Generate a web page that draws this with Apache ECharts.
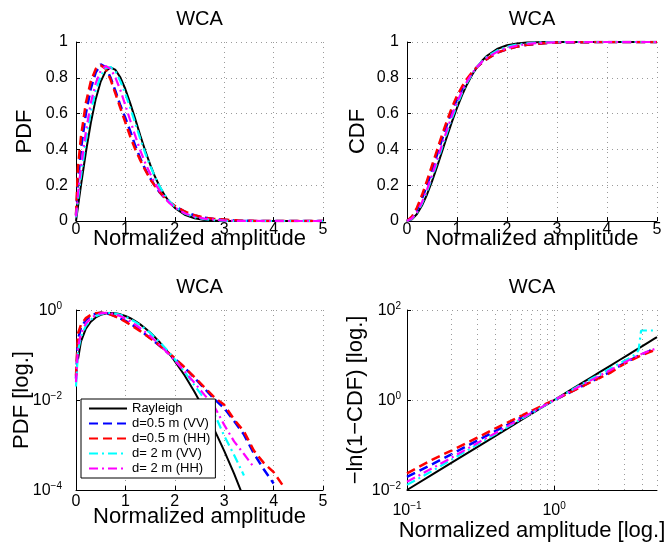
<!DOCTYPE html>
<html>
<head>
<meta charset="utf-8">
<script src="https://cdn.jsdelivr.net/npm/echarts@6/dist/echarts.min.js"></script>
<style>
  html, body { margin: 0; padding: 0; background: #ffffff; }
  #chart { width: 668px; height: 543px; }
</style>
</head>
<body>
<div id="chart"></div>
<script>
// Legend / series names
const seriesNames = ['Rayleigh', 'd=0.5 m (VV)', 'd=0.5 m (HH)', 'd= 2 m (VV)', 'd= 2 m (HH)'];

// PDF of the normalized amplitude
const pdfX = [0, 0.04, 0.1, 0.2, 0.3, 0.4, 0.5, 0.6, 0.7, 0.8, 0.9, 1.0, 1.1, 1.2, 1.3, 1.4, 1.5, 1.6, 1.7, 1.8, 1.9,
              2.0, 2.2, 2.4, 2.6, 2.8, 3.0, 3.2, 3.4, 3.6, 3.8, 4.0, 4.2, 4.4, 4.6, 4.8, 5.0];
const pdfRayleigh = [0, 0.08, 0.198, 0.384, 0.548, 0.682, 0.779, 0.837, 0.858, 0.844, 0.801, 0.736, 0.656, 0.569, 0.479,
                     0.394, 0.316, 0.247, 0.189, 0.141, 0.103, 0.073, 0.035, 0.0151, 0.0060, 0.0022, 7.4e-4, 2.3e-4,
                     6.5e-5, 1.7e-5, 4e-6, 9e-7, 1.8e-7, 3.5e-8, 6e-9, 1e-9, 1.4e-10];
const pdfVV05 = [0.03, 0.22, 0.40, 0.60, 0.74, 0.83, 0.875, 0.86, 0.80, 0.725, 0.645, 0.575, 0.50, 0.42, 0.35, 0.29,
                 0.24, 0.195, 0.158, 0.128, 0.103, 0.083, 0.052, 0.031, 0.018, 0.0105, 0.0066, 0.0034, 0.0017,
                 6.5e-4, 2.9e-4, 1.4e-4, 0, 0, 0, 0, 0];
const pdfHH05 = [0.035, 0.30, 0.47, 0.66, 0.78, 0.85, 0.87, 0.85, 0.79, 0.71, 0.63, 0.55, 0.47, 0.40, 0.34, 0.285,
                 0.235, 0.195, 0.16, 0.13, 0.105, 0.085, 0.053, 0.032, 0.019, 0.0115, 0.0078, 0.0037, 0.0020,
                 7.5e-4, 4.0e-4, 2.5e-4, 1.2e-4, 0, 0, 0, 0];
const pdfVV2 = [0.02, 0.12, 0.25, 0.45, 0.61, 0.73, 0.81, 0.855, 0.86, 0.835, 0.78, 0.71, 0.63, 0.545, 0.46, 0.38,
                0.31, 0.245, 0.19, 0.145, 0.108, 0.08, 0.042, 0.021, 0.0105, 0.005, 0.0016, 6.0e-4, 2.1e-4,
                0, 0, 0, 0, 0, 0, 0, 0];
const pdfHH2 = [0.025, 0.15, 0.30, 0.50, 0.66, 0.77, 0.84, 0.866, 0.85, 0.80, 0.73, 0.645, 0.56, 0.475, 0.395, 0.325,
                0.265, 0.21, 0.165, 0.128, 0.098, 0.075, 0.043, 0.024, 0.013, 0.0072, 0.0028, 0.0012, 6.3e-4,
                3.2e-4, 0, 0, 0, 0, 0, 0, 0];

// CDF of the normalized amplitude
const cdfX = [0, 0.1, 0.2, 0.3, 0.4, 0.5, 0.6, 0.7, 0.8, 0.9, 1.0, 1.1, 1.2, 1.3, 1.4, 1.5, 1.6, 1.8, 2.0, 2.2, 2.4,
              2.6, 2.8, 3.0, 3.5, 4.0, 4.5, 5.0];
const cdfRayleigh = [0, 0.01, 0.039, 0.086, 0.148, 0.221, 0.302, 0.387, 0.473, 0.555, 0.632, 0.702, 0.763, 0.816,
                     0.859, 0.895, 0.923, 0.961, 0.982, 0.992, 0.997, 0.9988, 0.9996, 0.9999, 1, 1, 1, 1];
const cdfVV05 = [0, 0.02, 0.062, 0.125, 0.20, 0.285, 0.37, 0.455, 0.54, 0.615, 0.68, 0.735, 0.785, 0.825, 0.86,
                 0.885, 0.905, 0.94, 0.96, 0.974, 0.984, 0.99, 0.994, 0.997, 0.999, 1, 1, 1];
const cdfHH05 = [0, 0.025, 0.075, 0.145, 0.225, 0.31, 0.395, 0.48, 0.56, 0.635, 0.70, 0.75, 0.795, 0.83, 0.86,
                 0.885, 0.905, 0.94, 0.96, 0.974, 0.984, 0.99, 0.994, 0.997, 0.999, 1, 1, 1];
const cdfVV2 = [0, 0.013, 0.045, 0.097, 0.165, 0.243, 0.325, 0.41, 0.495, 0.575, 0.65, 0.715, 0.772, 0.82, 0.86,
                0.892, 0.918, 0.952, 0.973, 0.986, 0.993, 0.997, 0.9985, 0.9995, 1, 1, 1, 1];
const cdfHH2 = [0, 0.015, 0.05, 0.105, 0.175, 0.255, 0.34, 0.425, 0.51, 0.59, 0.665, 0.725, 0.78, 0.825, 0.86,
                0.89, 0.912, 0.945, 0.966, 0.98, 0.989, 0.994, 0.997, 0.9985, 1, 1, 1, 1];

// -ln(1-CDF) on log-log axes
const hX = [0.1, 0.15, 0.2, 0.3, 0.4, 0.5, 0.6, 0.7, 0.8, 0.9, 1.0, 1.2, 1.4, 1.6, 1.8, 2.0, 2.4, 2.8, 3.2, 3.6,
            3.75, 3.9, 4.0, 4.4, 4.8, 5.0];
const hRayleigh = [0.01, 0.0225, 0.04, 0.09, 0.16, 0.25, 0.36, 0.49, 0.64, 0.81, 1.0, 1.44, 1.96, 2.56, 3.24, 4.0,
                   5.76, 7.84, 10.24, 12.96, 14.06, 15.21, 16, 19.36, 23.04, 25];
const hVV05 = [0.0195, 0.038, 0.062, 0.125, 0.205, 0.30, 0.41, 0.535, 0.67, 0.825, 0.99, 1.33, 1.72, 2.15, 2.6, 3.1,
               4.2, 5.8, 7.4, 9.0, 9.6, 10.2, 10.6, 12.0, 14.8, null];
const hHH05 = [0.0235, 0.048, 0.075, 0.145, 0.235, 0.335, 0.45, 0.57, 0.705, 0.85, 1.0, 1.33, 1.7, 2.1, 2.55, 3.0,
               4.0, 5.6, 7.1, 8.6, 9.2, 9.8, 10.1, 11.5, 12.8, null];
const hVV2 = [0.013, 0.027, 0.047, 0.102, 0.175, 0.27, 0.38, 0.51, 0.65, 0.81, 0.985, 1.4, 1.88, 2.4, 3.0, 3.6,
              5.0, 6.6, 8.3, 10.5, 13, 35, 35, 35, 35, 35];
const hHH2 = [0.0152, 0.031, 0.052, 0.11, 0.185, 0.28, 0.39, 0.52, 0.66, 0.82, 0.99, 1.38, 1.8, 2.3, 2.8, 3.35,
              4.6, 6.0, 7.6, 9.2, 9.8, 10.4, 10.8, 12.3, 13.5, null];

// Extra dotted grid lines of the log x axis (between the decades)
const logMinorGrid = [0.2, 0.3, 0.4, 0.5, 0.6, 0.7, 0.8, 0.9, 2, 3, 4];

const FONT = "'Liberation Sans', Arial, Helvetica, sans-serif";
const GRID_COLOR = '#9a9a9a';
const lineStyles = [
  { color: '#000000', width: 2,   type: 'solid' },
  { color: '#0000ff', width: 2.5, type: [9, 5] },
  { color: '#ff0000', width: 2.5, type: [9, 5] },
  { color: '#00ffff', width: 2.2, type: [9, 4, 2, 4] },
  { color: '#ff00ff', width: 2.2, type: [9, 4, 2, 4] }
];

function pairs(xs, ys, positiveOnly) {
  const out = [];
  for (let i = 0; i < xs.length; i++) {
    const y = ys[i];
    if (y === null || y === undefined) continue;
    if (positiveOnly && !(y > 0)) continue;
    out.push([xs[i], y]);
  }
  return out;
}

function powLabel(v) {
  const lg = Math.log10(v);
  const e = Math.round(lg);
  if (Math.abs(lg - e) > 1e-6) return '';
  return '{b|10}{s|' + (e < 0 ? '\u2212' + (-e) : String(e)) + '}';
}
const powRich = {
  b: { fontSize: 16, fontFamily: FONT, color: '#000', lineHeight: 18, verticalAlign: 'bottom' },
  s: { fontSize: 10, fontFamily: FONT, color: '#000', lineHeight: 10, verticalAlign: 'top' }
};

const splitDotted = { show: true, showMinLine: false, lineStyle: { color: GRID_COLOR, width: 1, type: [1, 4] } };
const axisLineBlack = { show: true, onZero: false, lineStyle: { color: '#000', width: 1 } };
const tickInside = { show: true, inside: true, length: 4, lineStyle: { color: '#000', width: 1 } };
const nameStyle = { fontSize: 22, fontFamily: FONT, color: '#000' };
const labelStyle = { fontSize: 16, fontFamily: FONT, color: '#000' };

function linX(gridIndex, gap, margin, name) {
  return {
    gridIndex, type: 'value', min: 0, max: 5, interval: 1,
    axisLine: axisLineBlack, axisTick: tickInside, splitLine: splitDotted,
    axisLabel: Object.assign({ margin }, labelStyle),
    name, nameLocation: 'middle', nameGap: gap, nameTextStyle: nameStyle, nameMoveOverlap: false
  };
}

const option = {
  animation: false,
  backgroundColor: '#ffffff',
  textStyle: { fontFamily: FONT },
  grid: [
    { left: 76,  top: 42,  width: 247, height: 179, outerBoundsMode: 'none', containLabel: false },
    { left: 407, top: 42,  width: 250, height: 179, outerBoundsMode: 'none', containLabel: false },
    { left: 76,  top: 310, width: 247, height: 180, outerBoundsMode: 'none', containLabel: false },
    { left: 407, top: 310, width: 250, height: 180, outerBoundsMode: 'none', containLabel: false }
  ],
  graphic: [
    [199.5, 19], [532, 19], [199.5, 287], [532, 287]
  ].map(p => ({
    type: 'text', x: p[0], y: p[1], silent: true,
    style: { text: 'WCA', fill: '#000', font: '20px ' + FONT, textAlign: 'center', textVerticalAlign: 'middle' }
  })),
  legend: {
    data: seriesNames, orient: 'vertical', left: 81, top: 399,
    itemWidth: 38, itemHeight: 14, itemGap: 2,
    padding: [3, 5, 3, 7],
    backgroundColor: '#ffffff', borderColor: '#000', borderWidth: 1, borderRadius: 0,
    textStyle: { fontSize: 13, fontFamily: FONT, color: '#000' },
    itemStyle: { color: 'rgba(0,0,0,0)', borderColor: 'rgba(0,0,0,0)', borderWidth: 0, opacity: 0 },
    selectedMode: false, z: 10
  },
  xAxis: [
    linX(0, 7, 1, 'Normalized amplitude'),
    linX(1, 7, 1, 'Normalized amplitude'),
    linX(2, 16, 4, 'Normalized amplitude'),
    {
      gridIndex: 3, type: 'log', logBase: 10, min: 0.1, max: 5,
      axisLine: axisLineBlack, axisTick: tickInside, splitLine: splitDotted,
      axisLabel: { margin: 11, formatter: powLabel, rich: powRich, showMaxLabel: false },
      name: 'Normalized amplitude [log.]', nameLocation: 'middle', nameGap: 30,
      nameTextStyle: nameStyle, nameMoveOverlap: false
    }
  ],
  yAxis: [
    {
      gridIndex: 0, type: 'value', min: 0, max: 1, interval: 0.2,
      axisLine: axisLineBlack, axisTick: tickInside, splitLine: splitDotted,
      axisLabel: Object.assign({ margin: 8 }, labelStyle),
      name: 'PDF', nameLocation: 'middle', nameGap: 40, nameTextStyle: nameStyle, nameMoveOverlap: false
    },
    {
      gridIndex: 1, type: 'value', min: 0, max: 1, interval: 0.2,
      axisLine: axisLineBlack, axisTick: tickInside, splitLine: splitDotted,
      axisLabel: Object.assign({ margin: 8 }, labelStyle),
      name: 'CDF', nameLocation: 'middle', nameGap: 38, nameTextStyle: nameStyle, nameMoveOverlap: false
    },
    {
      gridIndex: 2, type: 'log', logBase: 100, min: 1e-4, max: 1,
      axisLine: axisLineBlack, axisTick: tickInside, splitLine: splitDotted,
      axisLabel: { margin: 14, formatter: powLabel, rich: powRich },
      name: 'PDF [log.]', nameLocation: 'middle', nameGap: 43, nameTextStyle: nameStyle, nameMoveOverlap: false
    },
    {
      gridIndex: 3, type: 'log', logBase: 100, min: 1e-2, max: 100,
      axisLine: axisLineBlack, axisTick: tickInside, splitLine: splitDotted,
      axisLabel: { margin: 6, formatter: powLabel, rich: powRich },
      name: '\u2212ln(1\u2212CDF) [log.]', nameLocation: 'middle', nameGap: 40, nameTextStyle: nameStyle,
      nameMoveOverlap: false
    }
  ],
  series: []
};

const panels = [
  { x: pdfX, ys: [pdfRayleigh, pdfVV05, pdfHH05, pdfVV2, pdfHH2], positive: false },
  { x: cdfX, ys: [cdfRayleigh, cdfVV05, cdfHH05, cdfVV2, cdfHH2], positive: false },
  { x: pdfX, ys: [pdfRayleigh, pdfVV05, pdfHH05, pdfVV2, pdfHH2], positive: true },
  { x: hX,   ys: [hRayleigh, hVV05, hHH05, hVV2, hHH2], positive: true }
];

panels.forEach((p, gi) => {
  p.ys.forEach((ys, si) => {
    const s = {
      type: 'line', name: seriesNames[si], xAxisIndex: gi, yAxisIndex: gi,
      data: pairs(p.x, ys, p.positive),
      showSymbol: false, symbol: 'none', smooth: false, clip: true,
      lineStyle: Object.assign({}, lineStyles[si]),
      itemStyle: { color: lineStyles[si].color },
      emphasis: { disabled: true }, z: 2
    };
    if (gi === 3 && si === 0) {
      s.markLine = {
        silent: true, symbol: ['none', 'none'], label: { show: false },
        lineStyle: { color: GRID_COLOR, width: 1, type: [1, 4] },
        emphasis: { disabled: true },
        data: logMinorGrid.map(v => ({ xAxis: v }))
      };
    }
    option.series.push(s);
  });
});

const chart = echarts.init(document.getElementById('chart'), null, { renderer: 'canvas' });
chart.setOption(option);
</script>
</body>
</html>
